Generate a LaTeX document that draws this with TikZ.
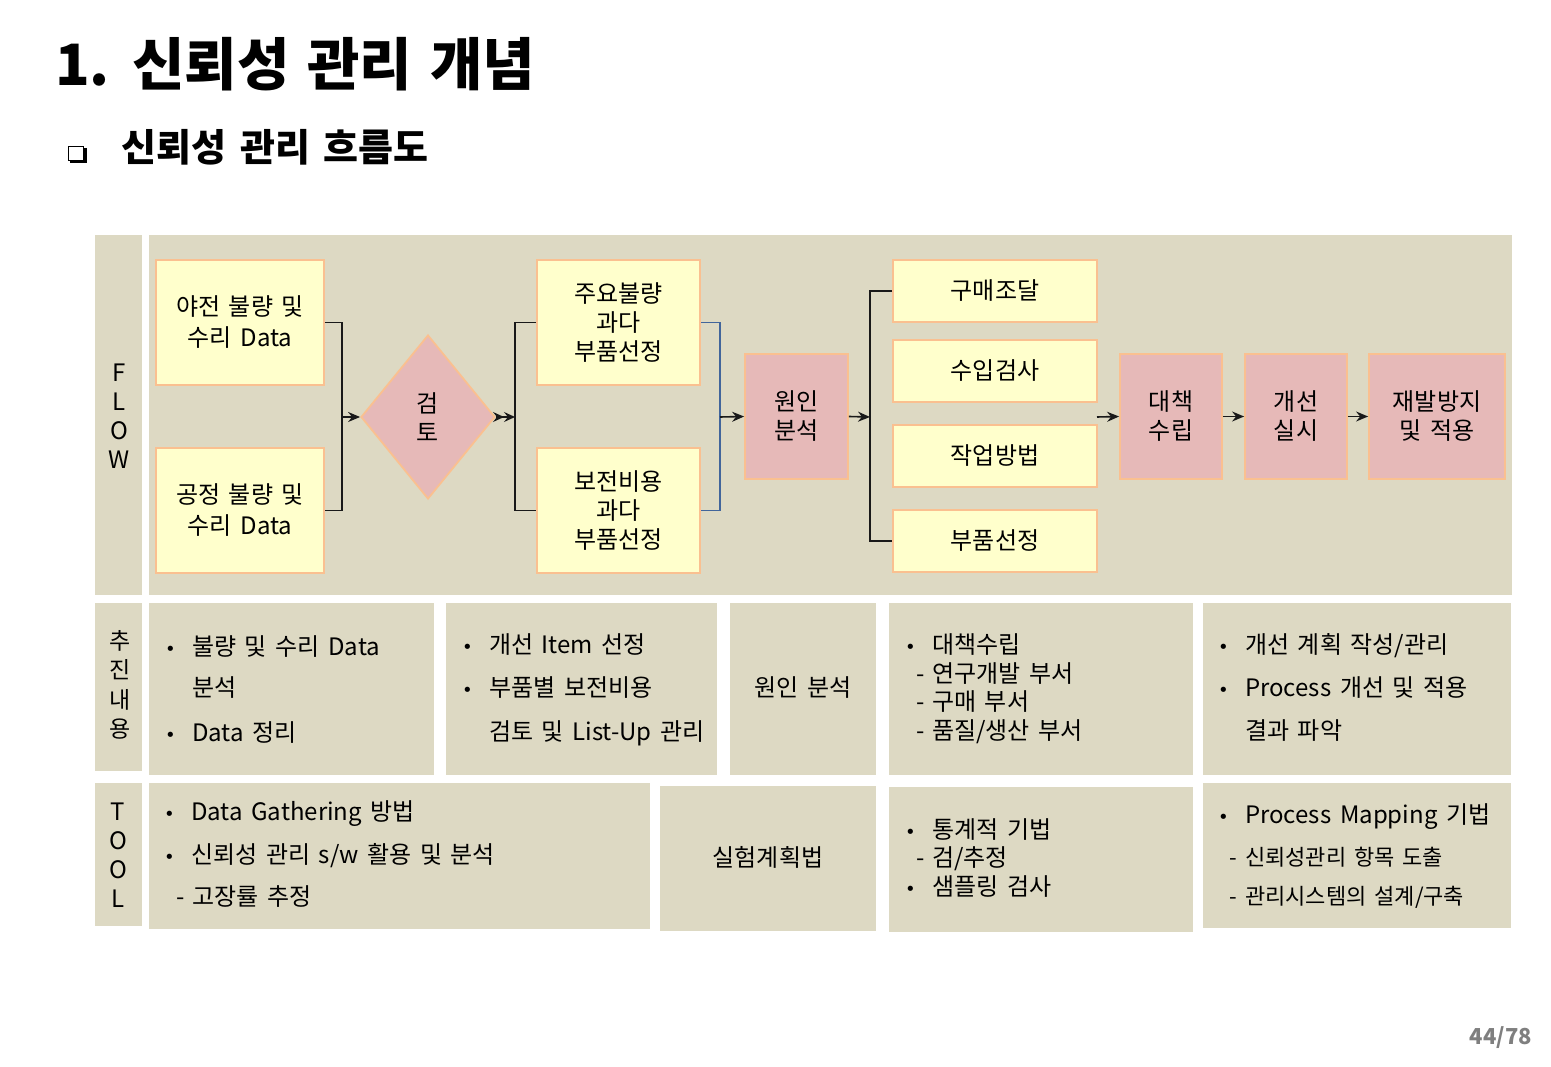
\documentclass[tikz,border=0pt]{standalone}
\usepackage{fontspec}
\setmainfont{Noto Sans CJK KR}[WordSpace=1.6]
\newfontfamily\dvfont{DejaVu Sans}
\usetikzlibrary{shapes.geometric,arrows.meta}
\definecolor{tanbg}{HTML}{DDD9C3}
\definecolor{ylw}{HTML}{FFFFCC}
\definecolor{pnk}{HTML}{E6B9B8}
\definecolor{obord}{HTML}{FAC090}
\definecolor{bconn}{HTML}{41659B}
\definecolor{pgray}{HTML}{7F7F7F}
\newcommand\flowfont{\fontsize{24}{29}\selectfont}
\newcommand\bodyfont{\fontsize{24}{29}\selectfont}
\newcommand\smallbody{\fontsize{22}{29}\selectfont}
\newcommand\bul{\llap{\makebox[27pt][l]{\dvfont\fontsize{18}{18}\selectfont •}}}
\newcommand\dsh{\llap{\makebox[16pt][l]{-}}}
\tikzset{
  panel/.style={fill=tanbg, draw=none},
  ybox/.style={draw=obord, line width=1.8pt, fill=ylw, align=center, inner sep=0pt, font=\flowfont},
  pbox/.style={draw=obord, line width=1.8pt, fill=pnk, align=center, inner sep=0pt, font=\flowfont},
  conn/.style={line width=1.6pt, black!90},
  bconnst/.style={line width=1.4pt, bconn},
  arr/.style={conn, -{Stealth[length=12pt,width=10pt,inset=4pt]}},
  darr/.style={conn, -{Stealth[length=11pt,width=10pt,inset=4pt]Stealth[length=11pt,width=10pt,inset=4pt]}},
  txt/.style={anchor=base west, inner sep=0pt, font=\bodyfont},
  ctxt/.style={inner sep=0pt, font=\bodyfont},
  lbl/.style={align=center, inner sep=0pt, font=\bodyfont},
}
\begin{document}
\begin{tikzpicture}[x=1pt,y=-1pt]
\useasboundingbox (0,0) rectangle (1551,1067);
\fill[white] (0,0) rectangle (1551,1067);

% titles
\node[anchor=base west, inner sep=0pt, font={\fontsize{57}{60}\selectfont\bfseries\spaceskip=18pt\relax}] (title) at (55,86) {1. 신뢰성 관리 개념};
\draw[line width=1.4pt] (68.5,146.5) rectangle (83.5,160.5);
\draw[line width=2.6pt] (70,161.5) -- (85.5,161.5) -- (85.5,148);
\node[anchor=base west, inner sep=0pt, font={\fontsize{38}{40}\selectfont\bfseries\spaceskip=14pt\relax}] (subtitle) at (121,162) {신뢰성 관리 흐름도};

% panels
\fill[panel] (95,235) rectangle (142,595);
\fill[panel] (149,235) rectangle (1512,595);
\fill[panel] (95,603) rectangle (142,771);
\fill[panel] (149,603) rectangle (434,775);
\fill[panel] (446,603) rectangle (717,775);
\fill[panel] (730,603) rectangle (876,775);
\fill[panel] (889,603) rectangle (1193,775);
\fill[panel] (1203,603) rectangle (1511,775);
\fill[panel] (95,783) rectangle (142,926);
\fill[panel] (149,783) rectangle (650,929);
\fill[panel] (660,786) rectangle (876,931);
\fill[panel] (889,787) rectangle (1193,932);
\fill[panel] (1203,783) rectangle (1511,928);

% row labels
\node[lbl, font={\fontsize{24}{29}\selectfont}] (lflow) at (119,416) {F\\L\\O\\W};
\node[lbl, font={\fontsize{23}{29.5}\selectfont}] (lpush) at (120,685) {추\\진\\내\\용};
\node[lbl, font={\fontsize{24}{29}\selectfont}] (ltool) at (118,855) {T\\O\\O\\L};

% flow nodes
\node[ybox, minimum width=168pt, minimum height=125pt] (b1) at (240,322.5) {야전 불량 및\\[2pt]수리 Data};
\node[ybox, minimum width=168pt, minimum height=125pt] (b2) at (240,510.5) {공정 불량 및\\[2pt]수리 Data};
\node[diamond, draw=obord, line width=1.8pt, fill=pnk, inner sep=0pt, minimum width=134pt, minimum height=164pt, align=center, font=\flowfont] (d) at (428,417) {검\\토};
\node[ybox, minimum width=163pt, minimum height=125pt] (m1) at (618.5,322.5) {주요불량\\과다\\부품선정};
\node[ybox, minimum width=163pt, minimum height=125pt] (m2) at (618.5,510.5) {보전비용\\과다\\부품선정};
\node[pbox, minimum width=103pt, minimum height=125pt] (c) at (796.5,416.5) {원인\\분석};
\node[ybox, minimum width=204pt, minimum height=62pt] (r1) at (995,291) {구매조달};
\node[ybox, minimum width=204pt, minimum height=62pt] (r2) at (995,371) {수입검사};
\node[ybox, minimum width=204pt, minimum height=62pt] (r3) at (995,456) {작업방법};
\node[ybox, minimum width=204pt, minimum height=62pt] (r4) at (995,541) {부품선정};
\node[pbox, minimum width=102pt, minimum height=125pt] (p1) at (1171,416.5) {대책\\수립};
\node[pbox, minimum width=102pt, minimum height=125pt] (p2) at (1296,416.5) {개선\\실시};
\node[pbox, minimum width=136pt, minimum height=125pt] (p3) at (1437,416.5) {재발방지\\및 적용};

% connectors
\coordinate (j1) at (342,417);
\coordinate (j2) at (515,417);
\coordinate (j3) at (720,417);
\coordinate (j4) at (870,417);
\coordinate (j5) at (1097,417);
\draw[conn] (b1.east) -| (j1) |- (b2.east);
\draw[arr] (j1) -- (d.west);
\draw[darr] (d.east) -- (j2);
\draw[conn] (m1.west) -| (j2) |- (m2.west);
\draw[bconnst] (m1.east) -| (j3) |- (m2.east);
\draw[arr] (j3) -- (c.west);
\draw[arr] (c.east) -- (j4);
\draw[conn] (r1.west) -| (j4) |- (r4.west);
\draw[arr] (j5) -- (p1.west);
\draw[arr] (p1.east) -- (p2.west);
\draw[arr] (p2.east) -- (p3.west);

% row 2 texts
\node[txt] (a1l1) at (192,655) {\bul 불량 및 수리 Data};
\node[txt] (a1l2) at (192,696) {분석};
\node[txt] (a1l3) at (192,741) {\bul Data 정리};
\node[txt] (a2l1) at (489,653) {\bul 개선 Item 선정};
\node[txt] (a2l2) at (489,696) {\bul 부품별 보전비용};
\node[txt] (a2l3) at (489,740) {검토 및 List-Up 관리};
\node[ctxt] (a3t) at (803,688) {원인 분석};
\node[txt] (a4l1) at (932,653) {\bul 대책수립};
\node[txt] (a4l2) at (932,682) {\dsh 연구개발 부서};
\node[txt] (a4l3) at (932,710) {\dsh 구매 부서};
\node[txt] (a4l4) at (932,739) {\dsh 품질/생산 부서};
\node[txt] (a5l1) at (1245,653) {\bul 개선 계획 작성/관리};
\node[txt] (a5l2) at (1245,696) {\bul Process 개선 및 적용};
\node[txt] (a5l3) at (1245,739) {결과 파악};

% row 3 texts
\node[txt] (t1l1) at (191,820) {\bul Data Gathering 방법};
\node[txt] (t1l2) at (191,863) {\bul 신뢰성 관리 s/w 활용 및 분석};
\node[txt] (t1l3) at (192,905) {\dsh 고장률 추정};
\node[ctxt] (t2t) at (768,857) {실험계획법};
\node[txt] (t3l1) at (932,838) {\bul 통계적 기법};
\node[txt] (t3l2) at (932,866) {\dsh 검/추정};
\node[txt] (t3l3) at (932,895) {\bul 샘플링 검사};
\node[txt] (t4l1) at (1245,823) {\bul Process Mapping 기법};
\node[txt, font=\smallbody] (t4l2) at (1245,865) {\dsh 신뢰성관리 항목 도출};
\node[txt, font=\smallbody] (t4l3) at (1245,904) {\dsh 관리시스템의 설계/구축};

% page number
\node[anchor=base east, inner sep=0pt, text=pgray, font={\fontsize{22}{26}\selectfont\bfseries}] (pg) at (1532,1044) {44/78};
\end{tikzpicture}
\end{document}
